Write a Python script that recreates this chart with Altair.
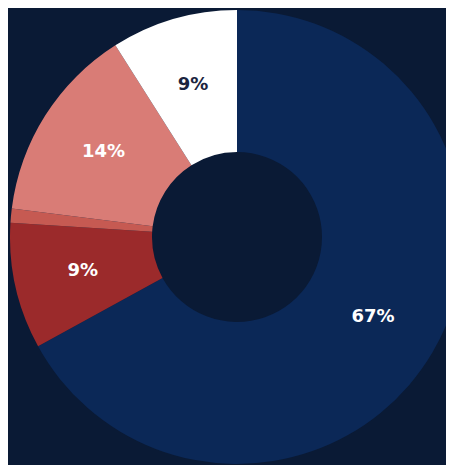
import altair as alt
import pandas as pd

categories = ["A", "B", "C", "D", "E"]
values = [67, 9, 1, 14, 9]
labels = ["67%", "9%", "", "14%", "9%"]
colors = ["#0b2857", "#9b2a2b", "#c65a52", "#d97c76", "#ffffff"]
label_colors = ["#ffffff", "#ffffff", "#ffffff", "#ffffff", "#1b2440"]

df = pd.DataFrame({
    "cat": categories,
    "value": values,
    "label": labels,
    "order": list(range(len(categories))),
    "lc": label_colors,
})

base = alt.Chart(df).encode(
    theta=alt.Theta("value:Q", stack=True),
    order=alt.Order("order:Q"),
    x=alt.value(229),
    y=alt.value(229),
)

arcs = base.mark_arc(innerRadius=85, outerRadius=227, stroke=None).encode(
    color=alt.Color("cat:N", scale=alt.Scale(domain=categories, range=colors), legend=None)
)

text = base.mark_text(radius=158, font="DejaVu Sans", fontWeight=900, fontSize=18).encode(
    text="label:N",
    color=alt.Color("lc:N", scale=None),
)

chart = (arcs + text).properties(
    width=438, height=457, padding=0, background="#0a1a35",
    autosize=alt.AutoSizeParams(type="none"),
).configure_view(stroke=None)

chart.save("out.html", embed_options={"renderer": "svg", "actions": False})
